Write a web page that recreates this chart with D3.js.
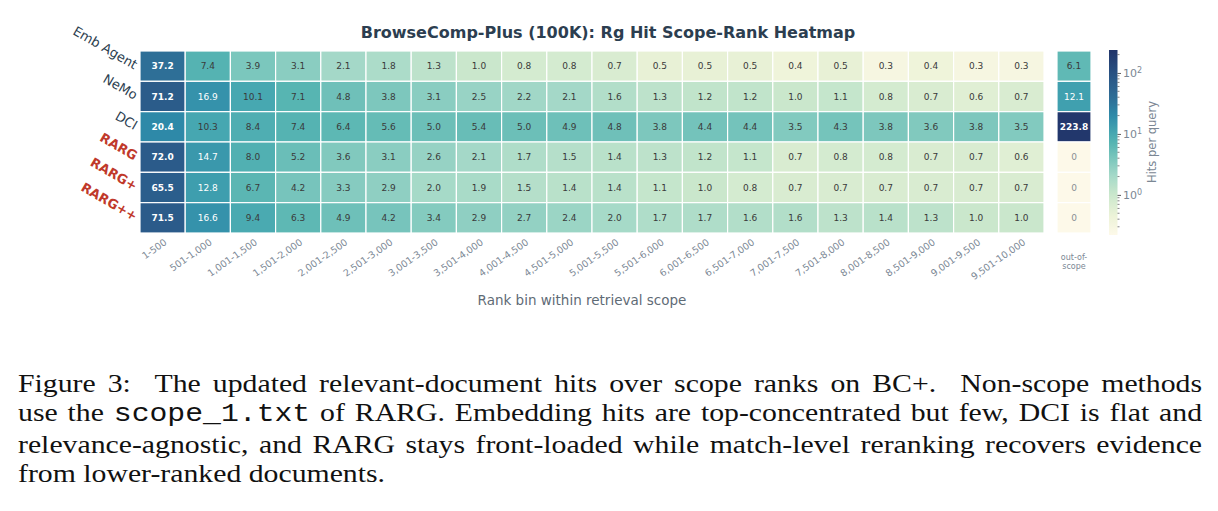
<!DOCTYPE html>
<html lang="en">
<head>
<meta charset="UTF-8">
<title>BrowseComp-Plus (100K): Rg Hit Scope-Rank Heatmap</title>
<script src="https://d3js.org/d3.v7.min.js"></script>
<style>
body { margin: 0; background: #fff; width: 1218px; height: 511px; overflow: hidden; position: relative; }
svg { position: absolute; left: 0; top: 0; }
svg text { font-family: "DejaVu Sans", sans-serif; }
#caption {
  position: absolute; left: 17.5px; top: 368.8px; width: 995px;
  transform: scaleX(1.19); transform-origin: 0 0;
  font-family: "Liberation Serif", "Times New Roman", serif;
  font-size: 25px; line-height: 29.5px; color: #111;
}
#caption .line { text-align: justify; text-align-last: justify; }
#caption .line.last { text-align-last: left; }
#caption code { font-family: "Liberation Mono", "DejaVu Sans Mono", monospace; font-size: 25px; }
</style>
</head>
<body>
<svg width="1218" height="511"></svg>
<div id="caption"></div>
<script>
// data
const methods = ["Emb Agent", "NeMo", "DCI", "RARG", "RARG+", "RARG++"];
const oursMethods = ["RARG", "RARG+", "RARG++"];
const rankBins = ["1-500", "501-1,000", "1,001-1,500", "1,501-2,000", "2,001-2,500",
  "2,501-3,000", "3,001-3,500", "3,501-4,000", "4,001-4,500", "4,501-5,000",
  "5,001-5,500", "5,501-6,000", "6,001-6,500", "6,501-7,000", "7,001-7,500",
  "7,501-8,000", "8,001-8,500", "8,501-9,000", "9,001-9,500", "9,501-10,000"];

const embAgent = [37.2, 7.4, 3.9, 3.1, 2.1, 1.8, 1.3, 1.0, 0.8, 0.8, 0.7, 0.5, 0.5, 0.5, 0.4, 0.5, 0.3, 0.4, 0.3, 0.3];
const nemo     = [71.2, 16.9, 10.1, 7.1, 4.8, 3.8, 3.1, 2.5, 2.2, 2.1, 1.6, 1.3, 1.2, 1.2, 1.0, 1.1, 0.8, 0.7, 0.6, 0.7];
const dci      = [20.4, 10.3, 8.4, 7.4, 6.4, 5.6, 5.0, 5.4, 5.0, 4.9, 4.8, 3.8, 4.4, 4.4, 3.5, 4.3, 3.8, 3.6, 3.8, 3.5];
const rarg     = [72.0, 14.7, 8.0, 5.2, 3.6, 3.1, 2.6, 2.1, 1.7, 1.5, 1.4, 1.3, 1.2, 1.1, 0.7, 0.8, 0.8, 0.7, 0.7, 0.6];
const rargP    = [65.5, 12.8, 6.7, 4.2, 3.3, 2.9, 2.0, 1.9, 1.5, 1.4, 1.4, 1.1, 1.0, 0.8, 0.7, 0.7, 0.7, 0.7, 0.7, 0.7];
const rargPP   = [71.5, 16.6, 9.4, 6.3, 4.9, 4.2, 3.4, 2.9, 2.7, 2.4, 2.0, 1.7, 1.7, 1.6, 1.6, 1.3, 1.4, 1.3, 1.0, 1.0];
const outOfScope = [6.1, 12.1, 223.8, 0, 0, 0];
const rows = [embAgent, nemo, dci, rarg, rargP, rargPP];

const colorTicks = [1, 10, 100];

const svg = d3.select("svg");

const x = d3.scaleBand().domain(rankBins).range([140, 1044]);
const y = d3.scaleBand().domain(methods).range([51, 233]);
const xo = d3.scaleBand().domain(["out-of-scope"]).range([1057, 1091]);

// log colour mapping, custom cream -> teal -> navy ramp
const vmin = 0.22, vmax = 238;
const logT = d3.scaleLog().domain([vmin, vmax]).range([0, 1]).clamp(true);
const ramp = d3.scaleLinear()
  .domain([0, 0.1, 0.22, 0.32, 0.41, 0.5, 0.55, 0.65, 0.73, 0.83, 1])
  .range(["#fdf9e9", "#edf3d8", "#c9e7cc", "#a5d9c8", "#7cc7bd", "#56b4b2",
          "#46a7b1", "#2e89a8", "#2e7098", "#2b5b8a", "#22356a"])
  .interpolate(d3.interpolateRgb);
const color = v => v <= 0 ? "#fdf9e9" : ramp(logT(v));

// flatten cells; bold marks the row peak
const cells = [];
rows.forEach((r, i) => {
  const rowMax = d3.max(r);
  r.forEach((v, j) => cells.push({ m: methods[i], bin: rankBins[j], v, max: v === rowMax }));
});
const oosCells = outOfScope.map((v, i) => ({
  m: methods[i], v, max: v > d3.max(rows[i])
}));

const fmt = v => v === 0 ? "0" : v.toFixed(1);
const textFill = v => v === 0 ? "#8a8f94" : (v >= 11 ? "#ffffff" : "#3a3a3a");

// title
svg.append("text")
  .attr("x", 608).attr("y", 38)
  .attr("text-anchor", "middle")
  .attr("font-size", 16).attr("font-weight", "bold")
  .attr("fill", "#2c3e50")
  .text("BrowseComp-Plus (100K): Rg Hit Scope-Rank Heatmap");

// main heatmap
const g = svg.append("g");
g.selectAll("rect").data(cells).join("rect")
  .attr("x", d => x(d.bin)).attr("y", d => y(d.m))
  .attr("width", x.bandwidth()).attr("height", y.bandwidth())
  .attr("fill", d => color(d.v))
  .attr("stroke", "#fff").attr("stroke-width", 1.2);
g.selectAll("text").data(cells).join("text")
  .attr("x", d => x(d.bin) + x.bandwidth() / 2)
  .attr("y", d => y(d.m) + y.bandwidth() / 2)
  .attr("dy", "0.36em")
  .attr("text-anchor", "middle")
  .attr("font-size", 9)
  .attr("font-weight", d => d.max ? "bold" : "normal")
  .attr("fill", d => textFill(d.v))
  .text(d => fmt(d.v));

// out-of-scope column
const go = svg.append("g");
go.selectAll("rect").data(oosCells).join("rect")
  .attr("x", xo("out-of-scope")).attr("y", d => y(d.m))
  .attr("width", xo.bandwidth()).attr("height", y.bandwidth())
  .attr("fill", d => color(d.v))
  .attr("stroke", "#fff").attr("stroke-width", 1.2);
go.selectAll("text").data(oosCells).join("text")
  .attr("x", xo("out-of-scope") + xo.bandwidth() / 2)
  .attr("y", d => y(d.m) + y.bandwidth() / 2)
  .attr("dy", "0.36em")
  .attr("text-anchor", "middle")
  .attr("font-size", 9)
  .attr("font-weight", d => d.max ? "bold" : "normal")
  .attr("fill", d => textFill(d.v))
  .text(d => fmt(d.v));

// y labels (rotated)
svg.append("g").selectAll("text").data(methods).join("text")
  .attr("transform", d => `translate(136,${y(d) + y.bandwidth() / 2}) rotate(30)`)
  .attr("text-anchor", "end")
  .attr("dy", "0.3em")
  .attr("font-size", 13)
  .attr("font-weight", d => oursMethods.includes(d) ? "bold" : "normal")
  .attr("fill", d => oursMethods.includes(d) ? "#c0392b" : "#2c3e50")
  .text(d => d);

// x tick labels
svg.append("g").selectAll("text").data(rankBins).join("text")
  .attr("transform", d => `translate(${x(d) + x.bandwidth() / 2 + 3},241) rotate(-35)`)
  .attr("text-anchor", "end")
  .attr("dy", "0.35em")
  .attr("font-size", 9.5)
  .attr("fill", "#7b8794")
  .text(d => d);

const oosX = xo("out-of-scope") + xo.bandwidth() / 2;
const oosLabel = svg.append("text")
  .attr("x", oosX).attr("y", 260)
  .attr("text-anchor", "middle")
  .attr("font-size", 8)
  .attr("fill", "#7b8794");
oosLabel.append("tspan").attr("x", oosX).text("out-of-");
oosLabel.append("tspan").attr("x", oosX).attr("dy", 8.5).text("scope");

// x axis title
svg.append("text")
  .attr("x", 582).attr("y", 305)
  .attr("text-anchor", "middle")
  .attr("font-size", 13.5)
  .attr("fill", "#5f6b76")
  .text("Rank bin within retrieval scope");

// colorbar
const cb = d3.scaleLog().domain([vmin, vmax]).range([235, 50]);
const defs = svg.append("defs");
const grad = defs.append("linearGradient").attr("id", "cbGrad")
  .attr("x1", 0).attr("y1", 1).attr("x2", 0).attr("y2", 0);
d3.range(0, 1.0001, 0.02).forEach(t => {
  grad.append("stop").attr("offset", t).attr("stop-color", ramp(t));
});
svg.append("rect")
  .attr("x", 1109).attr("y", 50).attr("width", 8.5).attr("height", 185)
  .attr("fill", "url(#cbGrad)");

const cbAxis = svg.append("g").attr("transform", "translate(1117.5,0)")
  .call(d3.axisRight(cb).tickValues(colorTicks).tickSize(3.5).tickPadding(2).tickFormat(() => ""));
cbAxis.select(".domain").remove();
cbAxis.selectAll(".tick line").attr("stroke", "#333").attr("stroke-width", 0.8);
cbAxis.selectAll(".tick text").each(function (d) {
  const t = d3.select(this).attr("fill", "#7b8794").attr("font-size", 11)
    .attr("font-family", "DejaVu Sans, sans-serif");
  t.append("tspan").text("10");
  t.append("tspan").attr("dy", "-0.45em").attr("font-size", 8).text(Math.round(Math.log10(d)));
});

// minor ticks
const minor = [];
[0.1, 1, 10, 100].forEach(dec => d3.range(2, 10).forEach(k => {
  const v = k * dec;
  if (v >= vmin && v <= vmax) minor.push(v);
}));
svg.append("g").selectAll("line").data(minor).join("line")
  .attr("x1", 1117.5).attr("x2", 1119.5)
  .attr("y1", d => cb(d)).attr("y2", d => cb(d))
  .attr("stroke", "#333").attr("stroke-width", 0.6);

svg.append("text")
  .attr("transform", "translate(1156,142) rotate(-90)")
  .attr("text-anchor", "middle")
  .attr("font-size", 11.5)
  .attr("fill", "#7b8794")
  .text("Hits per query");

// caption (double spaces after sentence ends, as in LaTeX)
const captionLines = [
  ["Figure 3:\u00a0 The updated relevant-document hits over scope ranks on BC+.\u00a0 Non-scope methods"],
  ["use the ", { code: "scope_1.txt" }, " of RARG. Embedding hits are top-concentrated but few, DCI is flat and"],
  ["relevance-agnostic, and RARG stays front-loaded while match-level reranking recovers evidence"],
  ["from lower-ranked documents."]
];
const cap = d3.select("#caption");
captionLines.forEach((parts, i) => {
  const line = cap.append("div").attr("class", "line" + (i === captionLines.length - 1 ? " last" : ""));
  parts.forEach(p => {
    if (typeof p === "string") line.append("span").text(p);
    else line.append("code").text(p.code);
  });
});
</script>
</body>
</html>
